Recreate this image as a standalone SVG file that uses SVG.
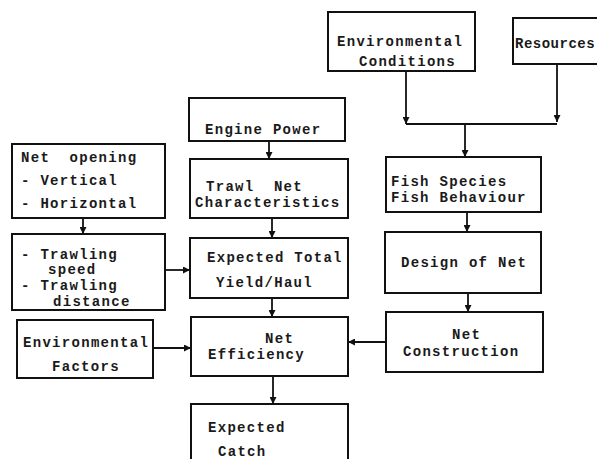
<svg xmlns="http://www.w3.org/2000/svg" width="597" height="459" viewBox="0 0 597 459">
<defs>
<style>
.box{fill:#fff;stroke:#111;stroke-width:2}
.t{font-family:"Liberation Mono","DejaVu Sans Mono",monospace;font-size:14px;font-weight:bold;letter-spacing:1.3px;fill:#1a1a1a}
.c{fill:none;stroke:#111;stroke-width:1.8}
</style>
<marker id="a" viewBox="0 0 10 10" refX="10" refY="5" markerWidth="7" markerHeight="7" orient="auto" markerUnits="userSpaceOnUse">
<path d="M0,0 L10,5 L0,10 z" fill="#111"/>
</marker>
</defs>
<rect width="597" height="459" fill="#fff"/>
<g id="connectors">
<path class="c" d="M406,71 V124" marker-end="url(#a)"/>
<path class="c" d="M557,64 V122" marker-end="url(#a)"/>
<path class="c" d="M406,124 H557"/>
<path class="c" d="M465,124 V157" marker-end="url(#a)"/>
<path class="c" d="M269,141 V159" marker-end="url(#a)"/>
<path class="c" d="M272,218 V238" marker-end="url(#a)"/>
<path class="c" d="M272,298 V317" marker-end="url(#a)"/>
<path class="c" d="M83,218 V234" marker-end="url(#a)"/>
<path class="c" d="M165,270 H190" marker-end="url(#a)"/>
<path class="c" d="M467,212 V232" marker-end="url(#a)"/>
<path class="c" d="M468,293 V312" marker-end="url(#a)"/>
<path class="c" d="M386,342 H348" marker-end="url(#a)"/>
<path class="c" d="M153,348 H191" marker-end="url(#a)"/>
<path class="c" d="M273,376 V404" marker-end="url(#a)"/>
</g>
<g id="env-conditions">
<rect class="box" x="328" y="12" width="147" height="59"/>
<text class="t" x="337" y="46">Environmental</text>
<text class="t" x="359" y="66">Conditions</text>
</g>
<g id="resources">
<rect class="box" x="513" y="18" width="100" height="46"/>
<text class="t" x="515" y="48" style="letter-spacing:0.5px">Resources</text>
</g>
<g id="engine-power">
<rect class="box" x="189" y="98" width="156" height="43"/>
<text class="t" x="205" y="134">Engine Power</text>
</g>
<g id="trawl-net">
<rect class="box" x="190" y="159" width="158" height="59"/>
<text class="t" x="206" y="191" xml:space="preserve">Trawl  Net</text>
<text class="t" x="195" y="207">Characteristics</text>
</g>
<g id="expected-total">
<rect class="box" x="190" y="238" width="158" height="60"/>
<text class="t" x="207" y="262">Expected Total</text>
<text class="t" x="216" y="287">Yield/Haul</text>
</g>
<g id="net-opening">
<rect class="box" x="12" y="144" width="153" height="74"/>
<text class="t" x="21" y="162" xml:space="preserve">Net  opening</text>
<text class="t" x="21" y="185">- Vertical</text>
<text class="t" x="21" y="208">- Horizontal</text>
</g>
<g id="trawling">
<rect class="box" x="12" y="234" width="153" height="76"/>
<text class="t" x="21" y="259">- Trawling</text>
<text class="t" x="48" y="274">speed</text>
<text class="t" x="21" y="290">- Trawling</text>
<text class="t" x="53" y="306">distance</text>
</g>
<g id="fish-species">
<rect class="box" x="386" y="157" width="155" height="55"/>
<text class="t" x="391" y="186">Fish Species</text>
<text class="t" x="391" y="202">Fish Behaviour</text>
</g>
<g id="design-net">
<rect class="box" x="385" y="232" width="156" height="61"/>
<text class="t" x="401" y="267">Design of Net</text>
</g>
<g id="net-construction">
<rect class="box" x="386" y="312" width="157" height="60"/>
<text class="t" x="452" y="339">Net</text>
<text class="t" x="403" y="356">Construction</text>
</g>
<g id="env-factors">
<rect class="box" x="17" y="320" width="136" height="58"/>
<text class="t" x="23" y="347">Environmental</text>
<text class="t" x="52" y="371">Factors</text>
</g>
<g id="net-efficiency">
<rect class="box" x="191" y="317" width="157" height="59"/>
<text class="t" x="265" y="343">Net</text>
<text class="t" x="208" y="359">Efficiency</text>
</g>
<g id="expected-catch">
<rect class="box" x="191" y="404" width="157" height="70"/>
<text class="t" x="208" y="432">Expected</text>
<text class="t" x="218" y="456">Catch</text>
</g>
</svg>
